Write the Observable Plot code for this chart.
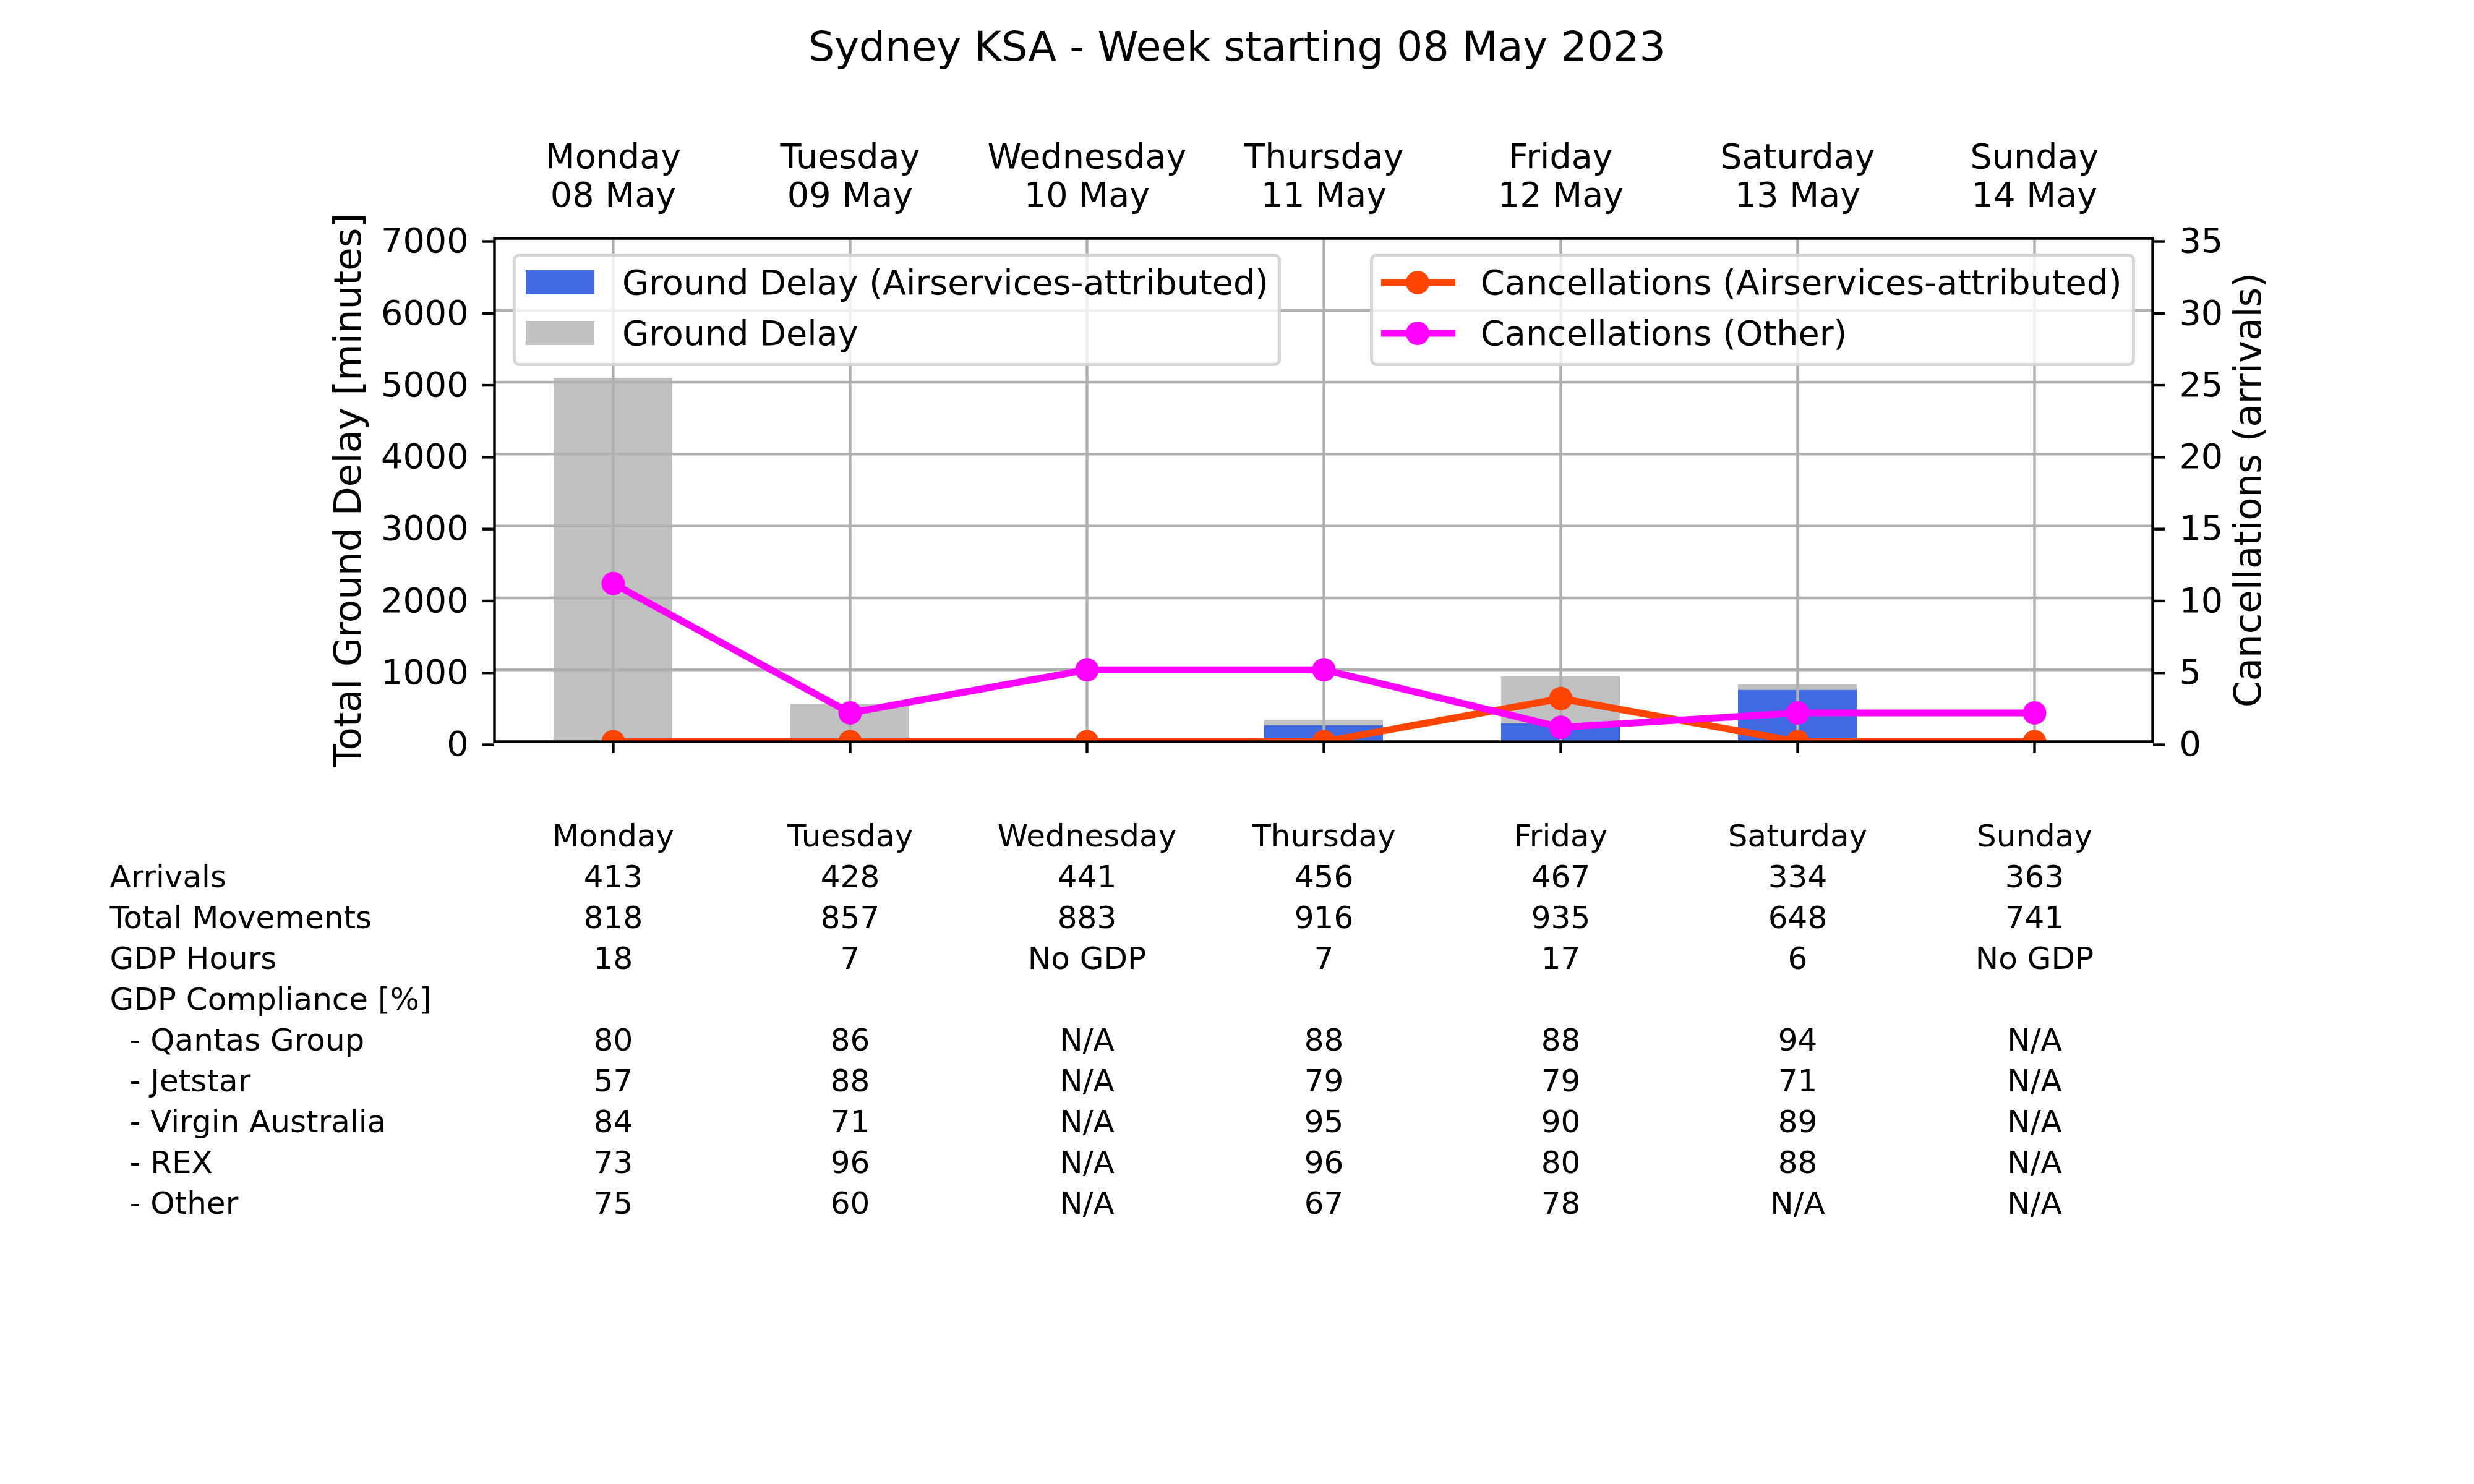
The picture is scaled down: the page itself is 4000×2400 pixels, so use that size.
<!DOCTYPE html>
<html>
<head>
<meta charset="utf-8">
<script src="https://cdn.jsdelivr.net/npm/d3@7"></script>
<script src="https://cdn.jsdelivr.net/npm/@observablehq/plot@0.6"></script>
<style>
html, body { margin: 0; padding: 0; background: #fff; }
#page { position: relative; width: 4000px; height: 2400px; background: #fff; font-family: "DejaVu Sans"; color: #000; overflow: hidden; }
.abs { position: absolute; }
svg text { white-space: pre; }
.lt { position: absolute; font-family: "DejaVu Sans"; font-size: 55.6px; line-height: 55.6px; white-space: pre; color: #000; }
</style>
</head>
<body>
<div id="page"></div>
<script>
// ---------------- data ----------------
const title = "Sydney KSA - Week starting 08 May 2023";
const days = ["Monday", "Tuesday", "Wednesday", "Thursday", "Friday", "Saturday", "Sunday"];
const dates = ["08 May", "09 May", "10 May", "11 May", "12 May", "13 May", "14 May"];
const groundDelay = [5055, 520, 0, 300, 905, 795, 0];
const groundDelayASA = [0, 0, 0, 225, 250, 715, 0];
const cancellationsASA = [0, 0, 0, 0, 3, 0, 0];
const cancellationsOther = [11, 2, 5, 5, 1, 2, 2];
const delayTicks = [0, 1000, 2000, 3000, 4000, 5000, 6000, 7000];
const cancTicks = [0, 5, 10, 15, 20, 25, 30, 35];
const yLabelLeft = "Total Ground Delay [minutes]";
const yLabelRight = "Cancellations (arrivals)";
const barSeries = ["Ground Delay (Airservices-attributed)", "Ground Delay"];
const lineSeries = ["Cancellations (Airservices-attributed)", "Cancellations (Other)"];

const rowLabels = ["Arrivals", "Total Movements", "GDP Hours", "GDP Compliance [%]",
  "  - Qantas Group", "  - Jetstar", "  - Virgin Australia", "  - REX", "  - Other"];
const arrivals = [413, 428, 441, 456, 467, 334, 363];
const totalMovements = [818, 857, 883, 916, 935, 648, 741];
const gdpHours = ["18", "7", "No GDP", "7", "17", "6", "No GDP"];
const compQantas = ["80", "86", "N/A", "88", "88", "94", "N/A"];
const compJetstar = ["57", "88", "N/A", "79", "79", "71", "N/A"];
const compVirgin = ["84", "71", "N/A", "95", "90", "89", "N/A"];
const compRex = ["73", "96", "N/A", "96", "80", "88", "N/A"];
const compOther = ["75", "60", "N/A", "67", "78", "N/A", "N/A"];
const tableValues = [arrivals, totalMovements, gdpHours, null, compQantas, compJetstar, compVirgin, compRex, compOther];

// ---------------- styles ----------------
const C_GRAY = "#c0c0c0", C_BLUE = "#4169e1", C_ORANGE = "#ff4500", C_MAGENTA = "#ff00ff", C_GRID = "#b0b0b0";
const page = document.getElementById("page");
const xScale = {type: "band", domain: days, paddingInner: 0.5, paddingOuter: 0.25, align: 0.5};
const ratio = delayTicks[delayTicks.length - 1] / cancTicks[cancTicks.length - 1];

const barData = days.map((d, i) => ({day: d, total: groundDelay[i], asa: groundDelayASA[i]}));
const cancData = days.map((d, i) => ({day: d, asa: cancellationsASA[i], other: cancellationsOther[i]}));

// title
const t = document.createElement("div");
t.className = "abs";
Object.assign(t.style, {left: "0px", top: "41.6px", width: "4000px", textAlign: "center",
  fontFamily: "DejaVu Sans", fontSize: "66.7px", lineHeight: "66.7px", whiteSpace: "pre"});
t.textContent = title;
page.appendChild(t);

// main chart
const chart = Plot.plot({
  width: 4000, height: 1300,
  marginTop: 385, marginBottom: 101, marginLeft: 799, marginRight: 520,
  style: {fontFamily: "DejaVu Sans", fontSize: "55.6px", background: "transparent", color: "black", overflow: "visible"},
  x: xScale,
  y: {domain: [delayTicks[0], delayTicks[delayTicks.length - 1]]},
  marks: [
    Plot.barY(barData, {x: "day", y: "total", fill: C_GRAY, insetLeft: 0, insetRight: 0}),
    Plot.barY(barData, {x: "day", y: "asa", fill: C_BLUE, insetLeft: 0, insetRight: 0}),
    Plot.gridY(delayTicks, {stroke: C_GRID, strokeOpacity: 1, strokeWidth: 4.4}),
    Plot.gridX(days, {stroke: C_GRID, strokeOpacity: 1, strokeWidth: 4.4}),
    Plot.line(cancData, {x: "day", y: d => d.asa * ratio, stroke: C_ORANGE, strokeWidth: 11.1, clip: true}),
    Plot.dot(cancData, {x: "day", y: d => d.asa * ratio, r: 19, fill: C_ORANGE, stroke: "none", clip: true}),
    Plot.line(cancData, {x: "day", y: d => d.other * ratio, stroke: C_MAGENTA, strokeWidth: 11.1, clip: true}),
    Plot.dot(cancData, {x: "day", y: d => d.other * ratio, r: 19, fill: C_MAGENTA, stroke: "none", clip: true}),
    Plot.axisY(delayTicks, {anchor: "left", tickSize: 19, tickPadding: 23, strokeWidth: 4.4, label: null, dy: 5,
      tickFormat: d => String(d)}),
    Plot.axisY(cancTicks.map(v => v * ratio), {anchor: "right", tickSize: 19, tickPadding: 24, strokeWidth: 4.4,
      tickFormat: d => String(Math.round(d / ratio)), label: null, dy: 5}),
    Plot.axisX(days, {anchor: "bottom", tickSize: 19, strokeWidth: 4.4, tickFormat: () => "", label: null}),
    Plot.text(days, {x: d => d, text: (d, i) => d + "\n" + dates[i], frameAnchor: "top",
      lineAnchor: "bottom", lineHeight: 1.1, dy: -52}),
    Plot.text([yLabelLeft], {text: d => d, frameAnchor: "left", textAnchor: "middle", rotate: -90,
      dx: -235.6, fontSize: 61.1}),
    Plot.text([yLabelRight], {text: d => d, frameAnchor: "right", textAnchor: "middle", rotate: -90,
      dx: 154.5, fontSize: 61.1}),
    Plot.frame({stroke: "black", strokeWidth: 4.4})
  ]
});
const chartWrap = document.createElement("div");
chartWrap.className = "abs";
Object.assign(chartWrap.style, {left: "0px", top: "0px"});
chartWrap.appendChild(chart);
page.appendChild(chartWrap);

// legends
function box(left, width) {
  const b = document.createElement("div");
  b.className = "abs";
  Object.assign(b.style, {left: left + "px", top: "410px", width: width + "px", height: "182px",
    boxSizing: "border-box", border: "5px solid rgba(204,204,204,0.8)", borderRadius: "11px",
    background: "rgba(255,255,255,0.8)"});
  page.appendChild(b);
}
function label(left, baseline, text) {
  const d = document.createElement("div");
  d.className = "lt";
  d.style.left = left + "px";
  d.style.top = (baseline - 47) + "px";
  d.textContent = text;
  page.appendChild(d);
}
const baselines = [476, 558];
box(829, 1242);
[C_BLUE, C_GRAY].forEach((c, i) => {
  const s = document.createElement("div");
  s.className = "abs";
  Object.assign(s.style, {left: "850px", top: (baselines[i] - 39) + "px", width: "111px", height: "39px", background: c});
  page.appendChild(s);
  label(1006, baselines[i], barSeries[i]);
});
box(2215, 1237);
[C_ORANGE, C_MAGENTA].forEach((c, i) => {
  const ns = "http://www.w3.org/2000/svg";
  const svg = document.createElementNS(ns, "svg");
  svg.setAttribute("width", "120"); svg.setAttribute("height", "40");
  svg.style.position = "absolute"; svg.style.overflow = "visible";
  svg.style.left = "2233px"; svg.style.top = (baselines[i] - 19.5 - 20) + "px";
  const ln = document.createElementNS(ns, "line");
  ln.setAttribute("x1", 0); ln.setAttribute("x2", 120); ln.setAttribute("y1", 20); ln.setAttribute("y2", 20);
  ln.setAttribute("stroke", c); ln.setAttribute("stroke-width", 11.1);
  const ci = document.createElementNS(ns, "circle");
  ci.setAttribute("cx", 59); ci.setAttribute("cy", 20); ci.setAttribute("r", 19); ci.setAttribute("fill", c);
  svg.appendChild(ln); svg.appendChild(ci);
  page.appendChild(svg);
  label(2394, baselines[i], lineSeries[i]);
});

// table
const tableKeys = ["__header__", ...rowLabels];
const cells = [];
days.forEach(d => cells.push({row: "__header__", day: d, text: d}));
rowLabels.forEach((lab, i) => {
  const vals = tableValues[i];
  if (vals) days.forEach((d, j) => cells.push({row: lab, day: d, text: String(vals[j])}));
});
const table = Plot.plot({
  width: 4000, height: 800,
  marginTop: 101, marginBottom: 100, marginLeft: 799, marginRight: 520,
  style: {fontFamily: "DejaVu Sans", fontSize: "50px", background: "transparent", color: "black", overflow: "visible"},
  x: {...xScale, axis: null},
  y: {type: "point", domain: tableKeys, padding: 0, axis: null},
  marks: [
    Plot.text(cells, {x: "day", y: "row", text: "text"}),
    Plot.text(rowLabels, {y: d => d, text: d => d, frameAnchor: "left", textAnchor: "start", dx: -622})
  ]
});
const tableWrap = document.createElement("div");
tableWrap.className = "abs";
Object.assign(tableWrap.style, {left: "0px", top: "1248px"});
tableWrap.appendChild(table);
page.appendChild(tableWrap);
</script>
</body>
</html>
